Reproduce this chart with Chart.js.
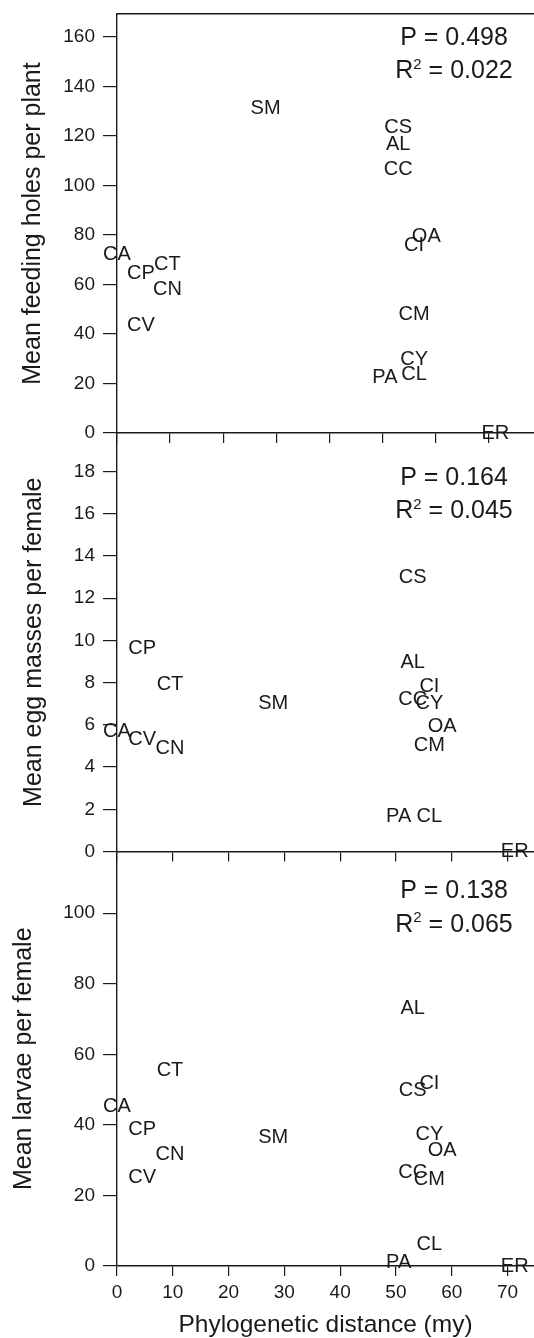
<!DOCTYPE html>
<html><head><meta charset="utf-8">
<script src="https://cdn.jsdelivr.net/npm/chart.js@4.4.0/dist/chart.umd.min.js"></script>
<style>
html,body{margin:0;padding:0;background:#fff;}
#wrap{position:relative;width:534px;height:1338px;overflow:hidden;}
canvas{position:absolute;left:0;top:0;}
</style></head><body>
<div id="wrap">
<canvas id="c1" width="534" height="1338"></canvas>
<canvas id="c2" width="534" height="1338"></canvas>
<canvas id="c3" width="534" height="1338"></canvas>
</div>
<script>
// ---- data ----
const species      = ['CA','CP','CV','CT','CN','SM','PA','CS','AL','CC','CI','CY','CM','CL','OA','ER'];
const distance     = [0, 4.5, 4.5, 9.5, 9.5, 28, 50.5, 53, 53, 53, 56, 56, 56, 56, 58.3, 71.3];
const feedingHoles = [72, 64.4, 43.5, 67.9, 57.8, 131.3, 22.5, 123.5, 116.7, 106.5, 75.9, 29.8, 47.9, 23.8, 79.5, 0];
const eggMasses    = [5.7, 9.6, 5.3, 7.9, 4.9, 7.0, 1.65, 13.0, 8.95, 7.2, 7.8, 7.0, 5.0, 1.65, 5.9, 0];
const larvae       = [45.3, 38.8, 25.1, 55.3, 31.7, 36.5, 0.9, 49.8, 73.1, 26.6, 51.8, 37.4, 24.6, 6.2, 32.8, 0];
const pValues      = ['0.498', '0.164', '0.138'];
const r2Values     = ['0.022', '0.045', '0.065'];
const yTitles      = ['Mean feeding holes per plant', 'Mean egg masses per female', 'Mean larvae per female'];
const xTitle       = 'Phylogenetic distance (my)';

// ---- styling ----
const FONT = '"Liberation Sans", Arial, Helvetica, sans-serif';
const INK = '#1a1a1a';
const W = 534, H = 1338, AXIS_LEFT = 117;

const labelPlugin = {
  id: 'speciesLabels',
  afterDatasetsDraw(chart) {
    const ctx = chart.ctx;
    const meta = chart.getDatasetMeta(0);
    ctx.save();
    ctx.font = '20px ' + FONT;
    ctx.fillStyle = INK;
    ctx.textAlign = 'center';
    ctx.textBaseline = 'middle';
    meta.data.forEach((pt, i) => ctx.fillText(species[i], pt.x, pt.y));
    ctx.restore();
  }
};

const statsPlugin = {
  id: 'statsText',
  afterDraw(chart, args, o) {
    const ctx = chart.ctx;
    const top = chart.chartArea.top;
    const cx = o.cx;
    ctx.save();
    ctx.fillStyle = INK;
    ctx.textBaseline = 'alphabetic';
    ctx.font = '25px ' + FONT;
    ctx.textAlign = 'center';
    ctx.fillText('P = ' + o.p, cx, top + o.dy1);
    ctx.textAlign = 'left';
    const big = '25px ' + FONT, small = '15px ' + FONT;
    ctx.font = big; const wR = ctx.measureText('R').width;
    const rest = ' = ' + o.r2; const wRest = ctx.measureText(rest).width;
    ctx.font = small; const w2 = ctx.measureText('2').width;
    let x = cx - (wR + w2 + wRest) / 2;
    const y = top + o.dy2;
    ctx.font = big; ctx.fillText('R', x, y); x += wR;
    ctx.font = small; ctx.fillText('2', x, y - 9.5); x += w2;
    ctx.font = big; ctx.fillText(rest, x, y);
    ctx.restore();
  }
};

function makePanel(id, cfg) {
  const isBottom = !!cfg.isBottom;
  const scales = {
    x: {
      type: 'linear', position: 'bottom', min: 0, max: cfg.xMax,
      afterFit: s => { s.height = isBottom ? H - cfg.bottom : 0; s.paddingLeft = 0; s.paddingRight = 0; },
      grid: { display: true, drawOnChartArea: false, drawTicks: true, tickLength: 10, color: INK, lineWidth: 1.2 },
      border: { display: true, color: INK, width: 1.4 },
      ticks: { display: isBottom, stepSize: 10, includeBounds: false, padding: 5, color: INK,
               font: { family: FONT, size: 19 }, maxRotation: 0, autoSkip: false },
      title: { display: isBottom, text: xTitle, color: INK,
               font: { family: FONT, size: 24.5, lineHeight: 1 }, padding: { top: 0, bottom: 1 } }
    },
    y: {
      type: 'linear', position: 'left', min: 0, max: cfg.yMax,
      afterFit: s => { s.width = AXIS_LEFT; s.paddingTop = 0; s.paddingBottom = 0; },
      grid: { display: true, drawOnChartArea: false, drawTicks: true, tickLength: 14, color: INK, lineWidth: 1.2 },
      border: { display: true, color: INK, width: 1.4 },
      ticks: { stepSize: cfg.yStep, includeBounds: false, padding: 8, color: INK, font: { family: FONT, size: 19 } },
      title: { display: true, text: cfg.yTitle, color: INK,
               font: { family: FONT, size: 25 }, padding: { top: cfg.yTitlePad, bottom: 0 } }
    }
  };
  if (cfg.topBorder) {
    scales.xTop = {
      type: 'linear', position: 'top', min: 0, max: cfg.xMax,
      afterFit: s => { s.height = 0; s.paddingLeft = 0; s.paddingRight = 0; },
      grid: { display: false }, ticks: { display: false },
      border: { display: true, color: INK, width: 1.4 }
    };
  }
  return new Chart(document.getElementById(id), {
    type: 'scatter',
    data: {
      datasets: [{
        data: distance.map((d, i) => ({ x: d, y: cfg.values[i] })),
        pointRadius: 0, pointHoverRadius: 0, showLine: false, clip: false
      }]
    },
    options: {
      responsive: false, animation: false, events: [],
      layout: { padding: { top: cfg.top, bottom: isBottom ? 0 : H - cfg.bottom, left: 0, right: 0 } },
      plugins: {
        legend: { display: false }, tooltip: { enabled: false },
        statsText: { p: cfg.p, r2: cfg.r2, cx: 454, dy1: cfg.dy1, dy2: cfg.dy2 }
      },
      scales
    },
    plugins: [labelPlugin, statsPlugin]
  });
}

makePanel('c1', { values: feedingHoles, yMax: 169.3, yStep: 20, xMax: 78.6, top: 14, bottom: 433,
  yTitle: yTitles[0], yTitlePad: 18.5, topBorder: true, p: pValues[0], r2: r2Values[0], dy1: 31, dy2: 64.3 });
makePanel('c2', { values: eggMasses, yMax: 19.83, yStep: 2, xMax: 74.75, top: 433, bottom: 851.5,
  yTitle: yTitles[1], yTitlePad: 19, p: pValues[1], r2: r2Values[1], dy1: 52, dy2: 85.3 });
makePanel('c3', { values: larvae, yMax: 117.5, yStep: 20, xMax: 74.75, top: 851.5, bottom: 1266,
  yTitle: yTitles[2], yTitlePad: 9.5, isBottom: true, p: pValues[2], r2: r2Values[2], dy1: 46.8, dy2: 80.2 });
</script></body></html>
